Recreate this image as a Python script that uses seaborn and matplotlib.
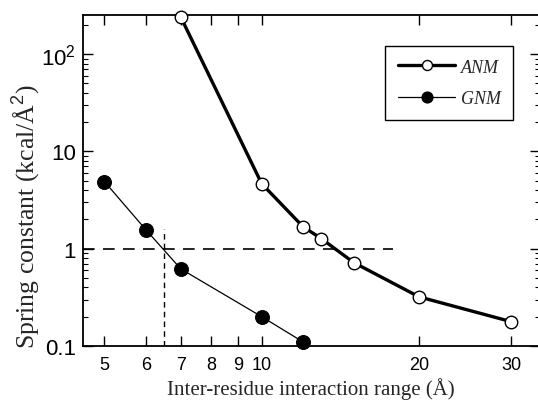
import numpy as np
import pandas as pd
import matplotlib
matplotlib.use("Agg")
import matplotlib.pyplot as plt
import seaborn as sns
from matplotlib.ticker import FixedLocator, FixedFormatter, NullLocator, LogLocator, NullFormatter

# Data
anm_x = [7, 10, 12, 13, 15, 20, 30]
anm_y = [240, 4.65, 1.68, 1.27, 0.72, 0.32, 0.178]
gnm_x = [5, 6, 7, 10, 12]
gnm_y = [4.9, 1.57, 0.62, 0.2, 0.11]
xticks = [5, 6, 7, 8, 9, 10, 20, 30]
xticklabels = ["5", "6", "7", "8", "9", "10", "20", "30"]
yticks = [0.1, 1, 10, 100]
yticklabels = ["0.1", "1", "10", "$10^2$"]

sns.set_style("ticks")
plt.rcParams["mathtext.fontset"] = "custom"
plt.rcParams["mathtext.rm"] = "Liberation Sans"
plt.rcParams["mathtext.it"] = "Liberation Sans:italic"

fig = plt.figure(figsize=(5.38, 4.02), dpi=100)
W, H = 538, 402
ax = fig.add_axes([83 / W, (H - 347) / H, (539.5 - 83) / W, (347 - 16.4) / H])
ax.set_xscale("log")
ax.set_yscale("log")

df_anm = pd.DataFrame({"x": anm_x, "y": anm_y})
df_gnm = pd.DataFrame({"x": gnm_x, "y": gnm_y})

# reference dashed lines
ax.plot([4.55, 17.8], [1, 1], color="black", lw=1.2, ls=(0, (7, 5)), zorder=1)
ax.plot([6.5, 6.5], [0.1, 1.6], color="black", lw=1.0, ls=(0, (4, 3)), zorder=1)

sns.lineplot(data=df_anm, x="x", y="y", ax=ax, color="black", lw=2.4,
             marker="o", markersize=9, markerfacecolor="white",
             markeredgecolor="black", markeredgewidth=1.0, label="ANM", zorder=3,
             clip_on=False)
sns.lineplot(data=df_gnm, x="x", y="y", ax=ax, color="black", lw=0.9,
             marker="o", markersize=10, markerfacecolor="black",
             markeredgecolor="black", label="GNM", zorder=3, clip_on=False)

ax.set_xlim(4.55, 34)
ax.set_ylim(0.1, 250)

ax.xaxis.set_major_locator(FixedLocator(xticks))
ax.xaxis.set_major_formatter(FixedFormatter(xticklabels))
ax.xaxis.set_minor_locator(NullLocator())
ax.yaxis.set_major_locator(FixedLocator(yticks))
ax.yaxis.set_major_formatter(FixedFormatter(yticklabels))
ax.yaxis.set_minor_locator(LogLocator(base=10, subs=np.arange(2, 10)))
ax.yaxis.set_minor_formatter(NullFormatter())

ax.tick_params(which="both", direction="in", top=True, right=True, colors="black")
ax.tick_params(which="major", length=7, width=1)
ax.tick_params(which="minor", length=3.5, width=0.8)
for lab in ax.get_xticklabels():
    lab.set_fontfamily("Liberation Sans")
    lab.set_fontsize(13)
for lab in ax.get_yticklabels():
    lab.set_fontfamily("Liberation Sans")
    lab.set_fontsize(16)
ax.tick_params(axis="x", pad=7)
ax.tick_params(axis="y", pad=5)

for sp in ax.spines.values():
    sp.set_linewidth(1.3)
    sp.set_color("black")

ax.set_xlabel("Inter-residue interaction range (Å)", family="Liberation Serif", fontsize=15, labelpad=3)
ax.set_ylabel("Spring constant (kcal/Å$^2$)", family="Liberation Serif", fontsize=18.5)
ax.yaxis.set_label_coords(-0.088, 0.396)

leg = ax.legend(loc="upper left", bbox_to_anchor=((385 - 83) / (539.5 - 83), 1 - (47 - 16.4) / (347 - 16.4)),
                frameon=True, fancybox=False, edgecolor="black", framealpha=1,
                prop={"family": "Liberation Serif", "style": "italic", "size": 13},
                handlelength=3.2, borderpad=0.7, labelspacing=0.8, handletextpad=0.3,
                borderaxespad=0, markerscale=0.8)
leg.get_frame().set_linewidth(1.0)

fig.savefig("out.png", dpi=100)
